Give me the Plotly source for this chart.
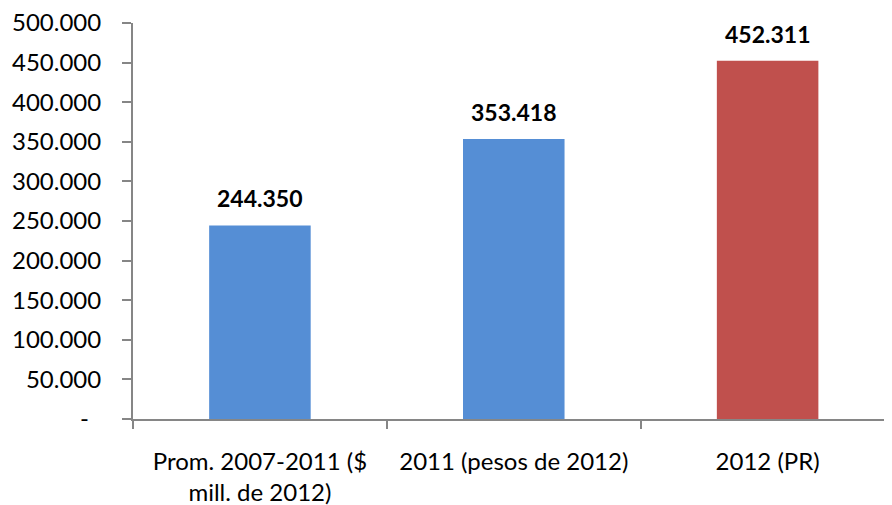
import plotly.graph_objects as go

categories = ["Prom. 2007-2011 ($<br>mill. de 2012)", "2011 (pesos de 2012)", "2012 (PR)"]
values = [244350, 353418, 452311]
value_labels = ["244.350", "353.418", "452.311"]
bar_colors = ["#558ED5", "#558ED5", "#C0504D"]
y_tickvals = [0, 50000, 100000, 150000, 200000, 250000, 300000, 350000, 400000, 450000, 500000]
y_ticktext = ["-\u00a0\u00a0", "50.000", "100.000", "150.000", "200.000", "250.000", "300.000", "350.000", "400.000", "450.000", "500.000"]

font_family = "Lato, Carlito, Calibri, sans-serif"

fig = go.Figure()
fig.add_trace(go.Bar(
    x=categories, y=values,
    marker=dict(color=bar_colors, line=dict(width=0)),
    width=0.4,
))
for c, v, t in zip(categories, values, value_labels):
    fig.add_annotation(x=c, y=v, text="<b>" + t + "</b>", showarrow=False,
                       yanchor="bottom", yshift=11,
                       font=dict(size=23, color="#000000", family=font_family))

# page body has an 8px margin, so the figure is sized to the remaining area
fig.update_layout(
    width=884, height=497,
    margin=dict(l=125, r=0, t=15, b=86, autoexpand=False),
    paper_bgcolor="white", plot_bgcolor="white",
    showlegend=False,
    font=dict(family=font_family, size=24, color="#000000"),
)
fig.update_yaxes(
    range=[0, 500000], tickvals=y_tickvals, ticktext=y_ticktext,
    showgrid=False, zeroline=False, automargin=False,
    showline=True, linecolor="#868686", linewidth=2,
    ticks="outside", ticklen=9, tickcolor="#868686", tickwidth=2,
    tickfont=dict(size=24), ticklabelstandoff=16,
    ticklabeloverflow="allow",
)
fig.update_xaxes(
    type="category", range=[-0.5, 2.49], automargin=False,
    showgrid=False, showline=True, linecolor="#868686", linewidth=2,
    ticks="outside", ticklen=8, tickcolor="#868686", tickwidth=2,
    tickson="boundaries", tickfont=dict(size=24), ticklabelstandoff=20,
    ticklabeloverflow="allow",
)

fig.write_html("out.html")
